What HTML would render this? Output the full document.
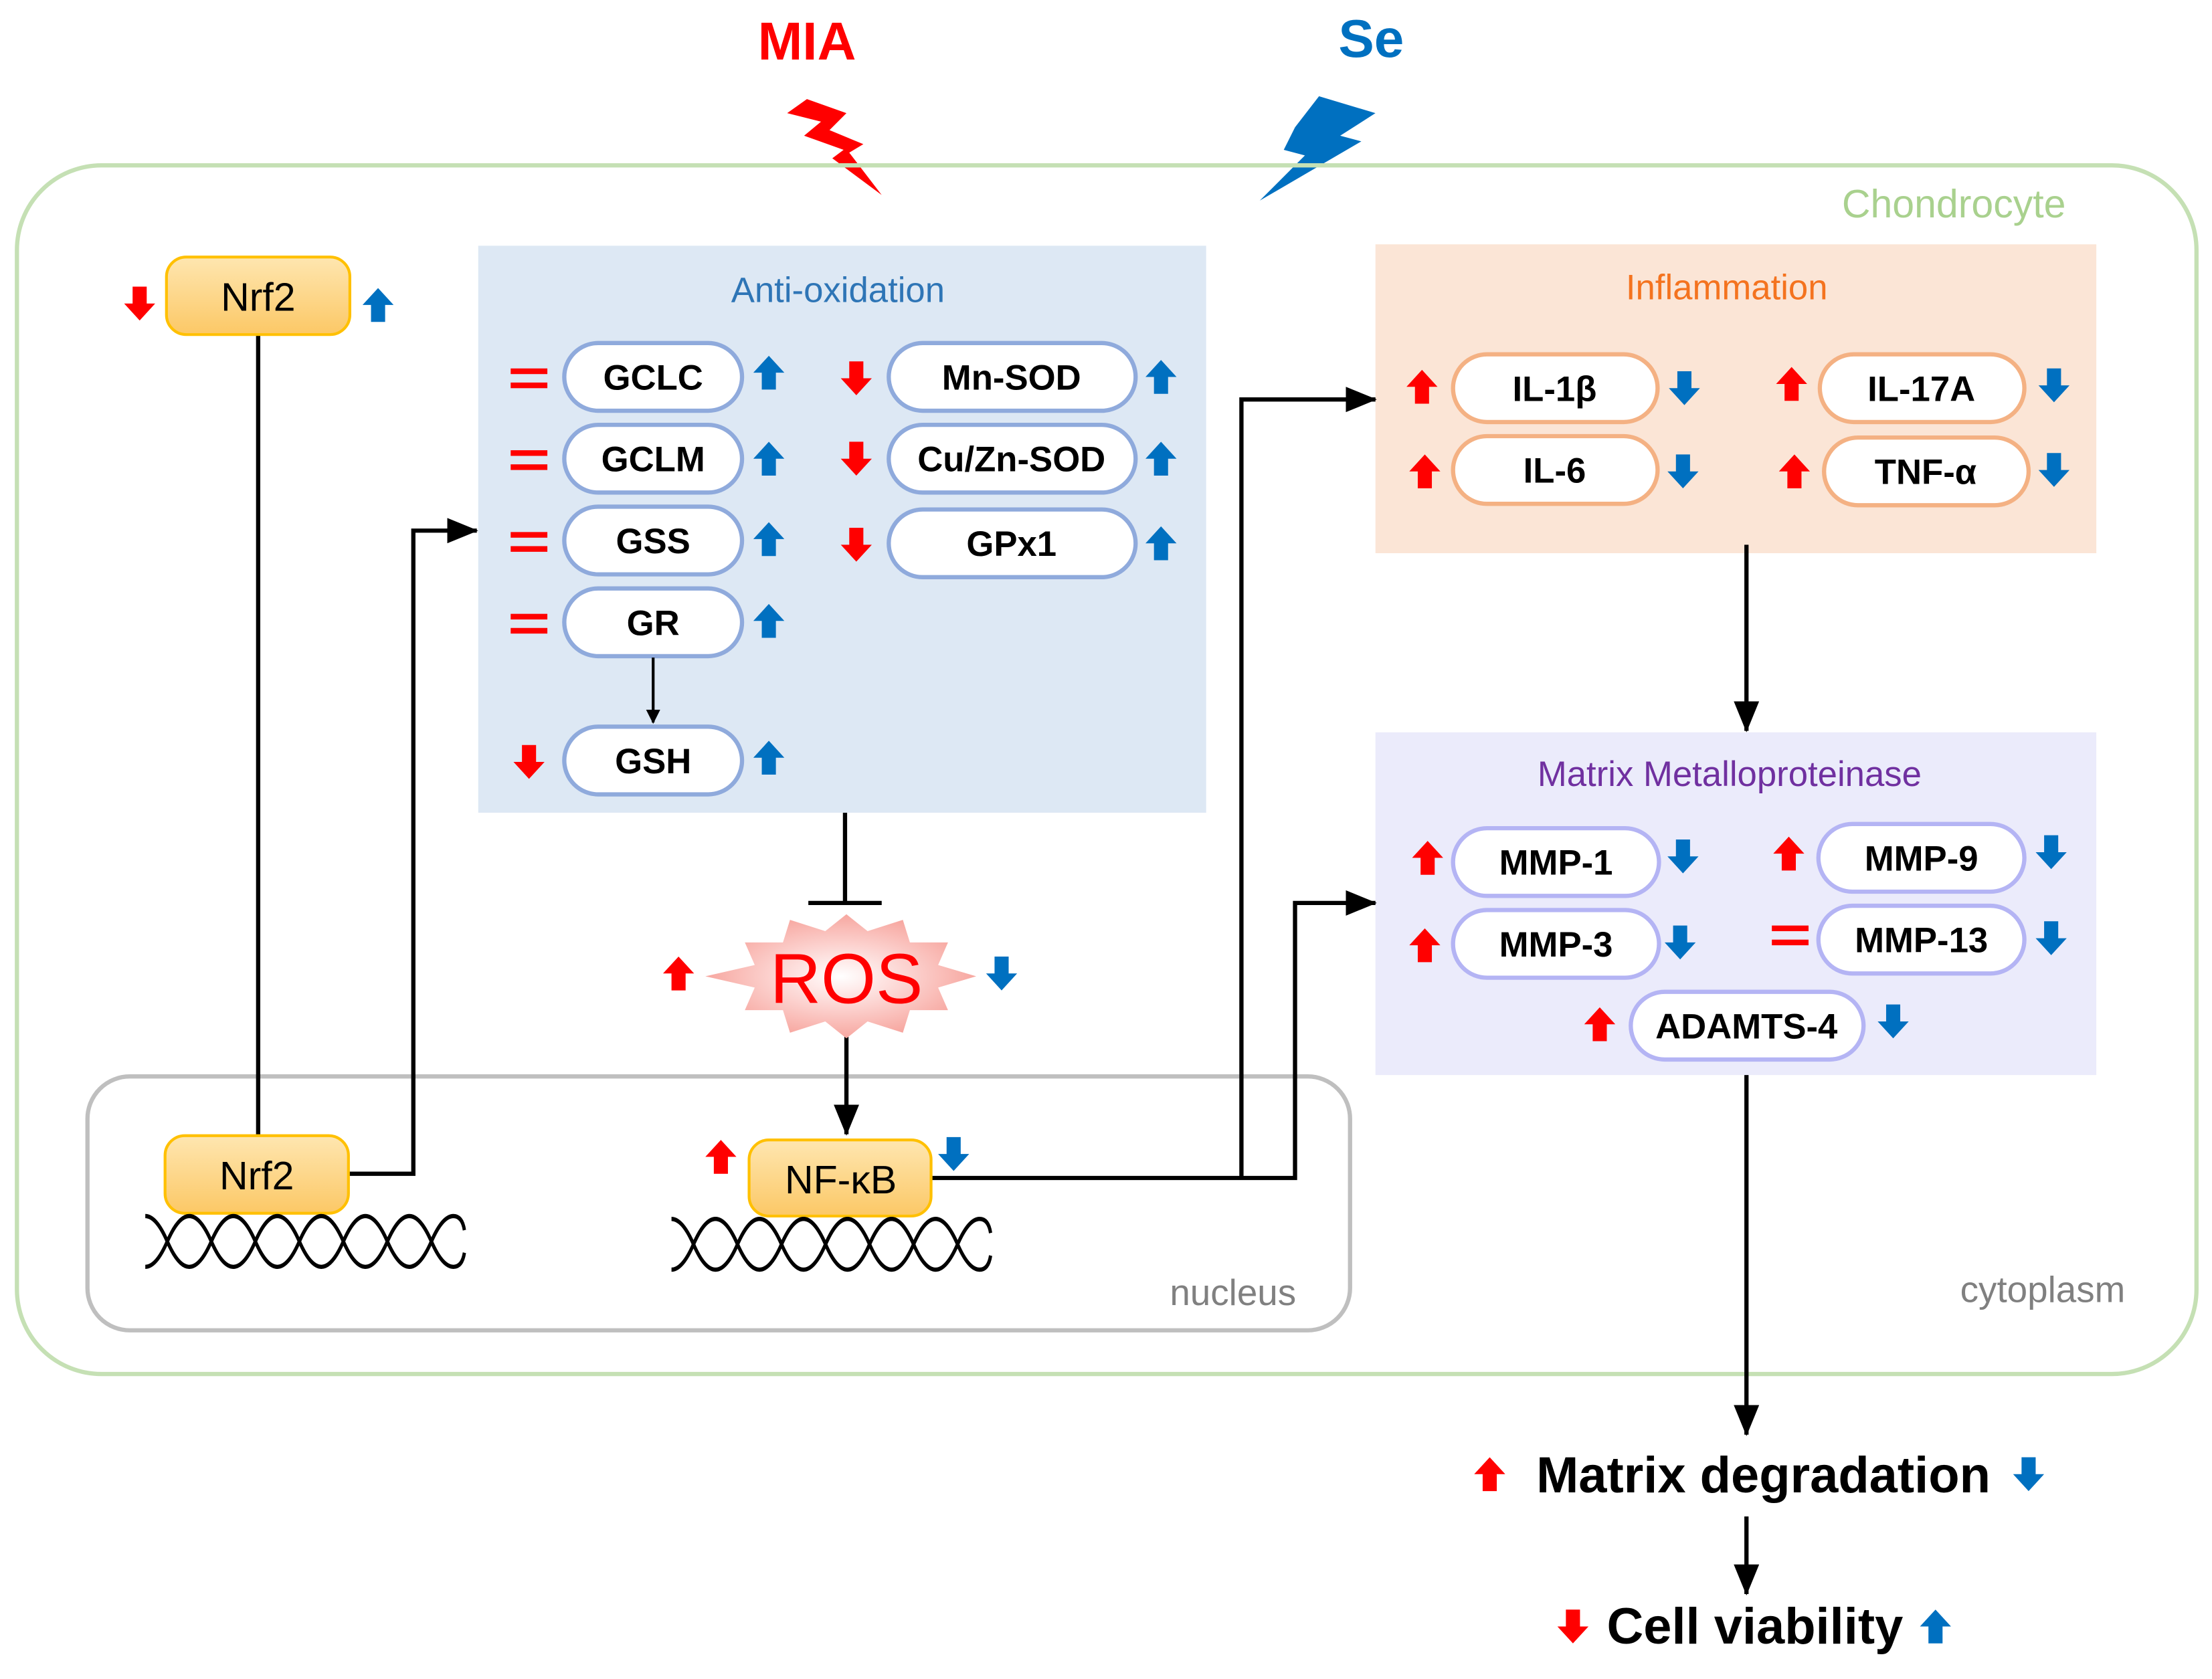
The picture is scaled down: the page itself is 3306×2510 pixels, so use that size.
<!DOCTYPE html>
<html><head><meta charset="utf-8"><style>html,body{margin:0;padding:0;background:#fff}svg{display:block}</style></head>
<body>
<svg width="3306" height="2510" viewBox="0 0 1568 1190" xmlns="http://www.w3.org/2000/svg" font-family="Liberation Sans, sans-serif">
<defs>
<symbol id="up" viewBox="-11 -13 22 26" overflow="visible"><polygon points="0,-12 11,0 5,0 5,12 -5,12 -5,0 -11,0"/></symbol>
<marker id="ah" markerWidth="10" markerHeight="10" refX="9" refY="5" orient="auto" markerUnits="userSpaceOnUse" viewBox="0 0 10 10"><polygon points="0,0 10,5 0,10" fill="#000"/></marker>
<marker id="ahb" markerWidth="22" markerHeight="18" refX="21" refY="9" orient="auto" markerUnits="userSpaceOnUse" viewBox="0 0 22 18"><polygon points="0,0 22,9 0,18" fill="#000"/></marker>
<linearGradient id="ng" x1="0" y1="0" x2="0" y2="1"><stop offset="0" stop-color="#fee6b0"/><stop offset="1" stop-color="#fcc866"/></linearGradient>
<radialGradient id="rg"><stop offset="0" stop-color="#ffffff"/><stop offset="0.5" stop-color="#fcd3d0"/><stop offset="1" stop-color="#f7a7a0"/></radialGradient>
</defs>
<text x="572" y="42" font-size="38" font-weight="bold" fill="#ff0000" text-anchor="middle">MIA</text>
<text x="972" y="40" font-size="38" font-weight="bold" fill="#0070c0" text-anchor="middle">Se</text>
<polygon points="572,70 600,80 588,92 612,102 602,108 625,138 590,112 598,106 570,96 582,86 558,80" fill="#ff0000"/>
<polygon points="935,68 975,80 950,96 965,100 893,142 925,110 910,106 918,90" fill="#0070c0"/>
<rect x="12" y="117" width="1545" height="857" rx="60" fill="none" stroke="#c5e0b4" stroke-width="3"/>
<text x="1385" y="154" font-size="28" fill="#a9d18e" text-anchor="middle">Chondrocyte</text>
<text x="1448" y="923" font-size="26" fill="#808080" text-anchor="middle">cytoplasm</text>
<rect x="62" y="763" width="895" height="180" rx="30" fill="none" stroke="#bfbfbf" stroke-width="3"/>
<text x="874" y="925" font-size="26" fill="#808080" text-anchor="middle">nucleus</text>
<rect x="339" y="174" width="516" height="402" fill="#dde8f4"/>
<text x="594" y="214" font-size="25" fill="#2e75b6" text-anchor="middle">Anti-oxidation</text>
<rect x="975" y="173" width="511" height="219" fill="#fbe5d6"/>
<text x="1224" y="212" font-size="25" fill="#f4731f" text-anchor="middle">Inflammation</text>
<rect x="975" y="519" width="511" height="243" fill="#ebebfb"/>
<text x="1226" y="557" font-size="25" fill="#7030a0" text-anchor="middle">Matrix Metalloproteinase</text>
<g font-size="25" font-weight="bold" text-anchor="middle" fill="#000" stroke-width="3">
<g stroke="#8faadc" fill="#fff">
<rect x="400" y="243" width="126" height="48" rx="24"/><rect x="400" y="301" width="126" height="48" rx="24"/>
<rect x="400" y="359" width="126" height="48" rx="24"/><rect x="400" y="417" width="126" height="48" rx="24"/>
<rect x="400" y="515" width="126" height="48" rx="24"/>
<rect x="630" y="243" width="175" height="48" rx="24"/><rect x="630" y="301" width="175" height="48" rx="24"/><rect x="630" y="361" width="175" height="48" rx="24"/>
</g>
<g stroke="#f4b183" fill="#fff">
<rect x="1030" y="251" width="145" height="48" rx="24"/><rect x="1030" y="309" width="145" height="48" rx="24"/>
<rect x="1290" y="251" width="145" height="48" rx="24"/><rect x="1293" y="310" width="145" height="48" rx="24"/>
</g>
<g stroke="#b4b4f4" fill="#fff">
<rect x="1030" y="587" width="146" height="48" rx="24"/><rect x="1030" y="645" width="146" height="48" rx="24"/>
<rect x="1289" y="584" width="146" height="48" rx="24"/><rect x="1289" y="642" width="146" height="48" rx="24"/>
<rect x="1156" y="703" width="165" height="48" rx="24"/>
</g>
<text x="463" y="276">GCLC</text><text x="463" y="334">GCLM</text><text x="463" y="392">GSS</text><text x="463" y="450">GR</text><text x="463" y="548">GSH</text>
<text x="717" y="276">Mn-SOD</text><text x="717" y="334">Cu/Zn-SOD</text><text x="717" y="394">GPx1</text>
<text x="1102" y="284">IL-1β</text><text x="1102" y="342">IL-6</text><text x="1362" y="284">IL-17A</text><text x="1365" y="343">TNF-α</text>
<text x="1103" y="620">MMP-1</text><text x="1103" y="678">MMP-3</text><text x="1362" y="617">MMP-9</text><text x="1362" y="675">MMP-13</text><text x="1238" y="736">ADAMTS-4</text>
</g>
<g fill="#ff0000">
<rect x="362" y="261" width="26" height="4"/><rect x="362" y="271" width="26" height="4"/>
<rect x="362" y="319" width="26" height="4"/><rect x="362" y="329" width="26" height="4"/>
<rect x="362" y="377" width="26" height="4"/><rect x="362" y="387" width="26" height="4"/>
<rect x="362" y="435" width="26" height="4"/><rect x="362" y="445" width="26" height="4"/>
<rect x="1256" y="656" width="26" height="4"/><rect x="1256" y="666" width="26" height="4"/>
</g>
<g fill="#ff0000">
<use href="#up" x="-11" y="-13" width="22" height="26" transform="translate(99,215) rotate(180)"/>
<use href="#up" x="-11" y="-13" width="22" height="26" transform="translate(375,540) rotate(180)"/>
<use href="#up" x="-11" y="-13" width="22" height="26" transform="translate(607,268) rotate(180)"/>
<use href="#up" x="-11" y="-13" width="22" height="26" transform="translate(607,325) rotate(180)"/>
<use href="#up" x="-11" y="-13" width="22" height="26" transform="translate(607,386) rotate(180)"/>
<use href="#up" x="-11" y="-13" width="22" height="26" transform="translate(1115,1153) rotate(180)"/>
<use href="#up" x="-11" y="-13" width="22" height="26" transform="translate(1008,274)"/>
<use href="#up" x="-11" y="-13" width="22" height="26" transform="translate(1010,334)"/>
<use href="#up" x="-11" y="-13" width="22" height="26" transform="translate(1270,272)"/>
<use href="#up" x="-11" y="-13" width="22" height="26" transform="translate(1272,334)"/>
<use href="#up" x="-11" y="-13" width="22" height="26" transform="translate(1012,608)"/>
<use href="#up" x="-11" y="-13" width="22" height="26" transform="translate(1010,670)"/>
<use href="#up" x="-11" y="-13" width="22" height="26" transform="translate(1268,605)"/>
<use href="#up" x="-11" y="-13" width="22" height="26" transform="translate(1134,726)"/>
<use href="#up" x="-11" y="-13" width="22" height="26" transform="translate(481,690)"/>
<use href="#up" x="-11" y="-13" width="22" height="26" transform="translate(511,820)"/>
<use href="#up" x="-11" y="-13" width="22" height="26" transform="translate(1056,1045)"/>
</g>
<g fill="#0070c0">
<use href="#up" x="-11" y="-13" width="22" height="26" transform="translate(268,216)"/>
<use href="#up" x="-11" y="-13" width="22" height="26" transform="translate(545,264)"/>
<use href="#up" x="-11" y="-13" width="22" height="26" transform="translate(545,325)"/>
<use href="#up" x="-11" y="-13" width="22" height="26" transform="translate(545,382)"/>
<use href="#up" x="-11" y="-13" width="22" height="26" transform="translate(545,440)"/>
<use href="#up" x="-11" y="-13" width="22" height="26" transform="translate(545,537)"/>
<use href="#up" x="-11" y="-13" width="22" height="26" transform="translate(823,267)"/>
<use href="#up" x="-11" y="-13" width="22" height="26" transform="translate(823,325)"/>
<use href="#up" x="-11" y="-13" width="22" height="26" transform="translate(823,385)"/>
<use href="#up" x="-11" y="-13" width="22" height="26" transform="translate(1372,1153)"/>
<use href="#up" x="-11" y="-13" width="22" height="26" transform="translate(1194,275) rotate(180)"/>
<use href="#up" x="-11" y="-13" width="22" height="26" transform="translate(1193,334) rotate(180)"/>
<use href="#up" x="-11" y="-13" width="22" height="26" transform="translate(1456,273) rotate(180)"/>
<use href="#up" x="-11" y="-13" width="22" height="26" transform="translate(1456,333) rotate(180)"/>
<use href="#up" x="-11" y="-13" width="22" height="26" transform="translate(1193,607) rotate(180)"/>
<use href="#up" x="-11" y="-13" width="22" height="26" transform="translate(1191,668) rotate(180)"/>
<use href="#up" x="-11" y="-13" width="22" height="26" transform="translate(1454,604) rotate(180)"/>
<use href="#up" x="-11" y="-13" width="22" height="26" transform="translate(1454,665) rotate(180)"/>
<use href="#up" x="-11" y="-13" width="22" height="26" transform="translate(1342,724) rotate(180)"/>
<use href="#up" x="-11" y="-13" width="22" height="26" transform="translate(710,690) rotate(180)"/>
<use href="#up" x="-11" y="-13" width="22" height="26" transform="translate(676,818) rotate(180)"/>
<use href="#up" x="-11" y="-13" width="22" height="26" transform="translate(1438,1045) rotate(180)"/>
</g>
<g fill="none" stroke="#000" stroke-width="3">
<line x1="183" y1="237" x2="183" y2="806"/>
<polyline points="247,832 293,832 293,376 338,376" marker-end="url(#ahb)" />
<line x1="463" y1="466" x2="463" y2="512" stroke-width="2" marker-end="url(#ah)"/>
<line x1="599" y1="576" x2="599" y2="640"/>
<line x1="573" y1="640" x2="625" y2="640"/>
<line x1="600" y1="735" x2="600" y2="804" marker-end="url(#ahb)"/>
<polyline points="660,835 918,835 918,640 975,640" marker-end="url(#ahb)"/>
<polyline points="880,835 880,283 975,283" marker-end="url(#ahb)"/>
<line x1="1238" y1="386" x2="1238" y2="518" marker-end="url(#ahb)"/>
<line x1="1238" y1="762" x2="1238" y2="1017" marker-end="url(#ahb)"/>
<line x1="1238" y1="1075" x2="1238" y2="1130" marker-end="url(#ahb)"/>
</g>
<g stroke="#ffc000" stroke-width="2" fill="url(#ng)">
<rect x="118" y="182" width="130" height="55" rx="14"/>
<rect x="117" y="805" width="130" height="55" rx="14"/>
<rect x="531" y="808" width="129" height="54" rx="14"/>
</g>
<g font-size="28" text-anchor="middle" fill="#000">
<text x="183" y="220">Nrf2</text><text x="182" y="843">Nrf2</text><text x="596" y="846">NF-κB</text>
</g>
<polygon points="600,648 615,660 640,652 645,668 672,668 665,684 692,692 665,700 672,716 645,716 640,732 615,724 600,736 585,724 560,732 555,716 528,716 535,700 500,692 535,684 528,668 555,668 560,652 585,660" fill="url(#rg)"/>
<text x="600" y="711" font-size="50" fill="#ff0000" text-anchor="middle">ROS</text>
<g fill="none" stroke="#000" stroke-width="3">
<g transform="translate(103,0) scale(0.78,1) translate(-103,0)">
<path d="M103,898 q10,0 20,-18 t20,-18 t20,18 t20,18 t20,-18 t20,-18 t20,18 t20,18 t20,-18 t20,-18 t20,18 t20,18 t20,-18 t20,-18 q8,0 10,10"/>
<path d="M103,862 q10,0 20,18 t20,18 t20,-18 t20,-18 t20,18 t20,18 t20,-18 t20,-18 t20,18 t20,18 t20,-18 t20,-18 t20,18 t20,18 q8,0 10,-10"/>
</g>
<g transform="translate(476,0) scale(0.78,1) translate(-476,0)">
<path d="M476,900 q10,0 20,-18 t20,-18 t20,18 t20,18 t20,-18 t20,-18 t20,18 t20,18 t20,-18 t20,-18 t20,18 t20,18 t20,-18 t20,-18 q8,0 10,10"/>
<path d="M476,864 q10,0 20,18 t20,18 t20,-18 t20,-18 t20,18 t20,18 t20,-18 t20,-18 t20,18 t20,18 t20,-18 t20,-18 t20,18 t20,18 q8,0 10,-10"/>
</g>
</g>
<text x="1250" y="1058" font-size="36" font-weight="bold" text-anchor="middle">Matrix degradation</text>
<text x="1244" y="1165" font-size="36" font-weight="bold" text-anchor="middle">Cell viability</text>
</svg>
</body></html>
